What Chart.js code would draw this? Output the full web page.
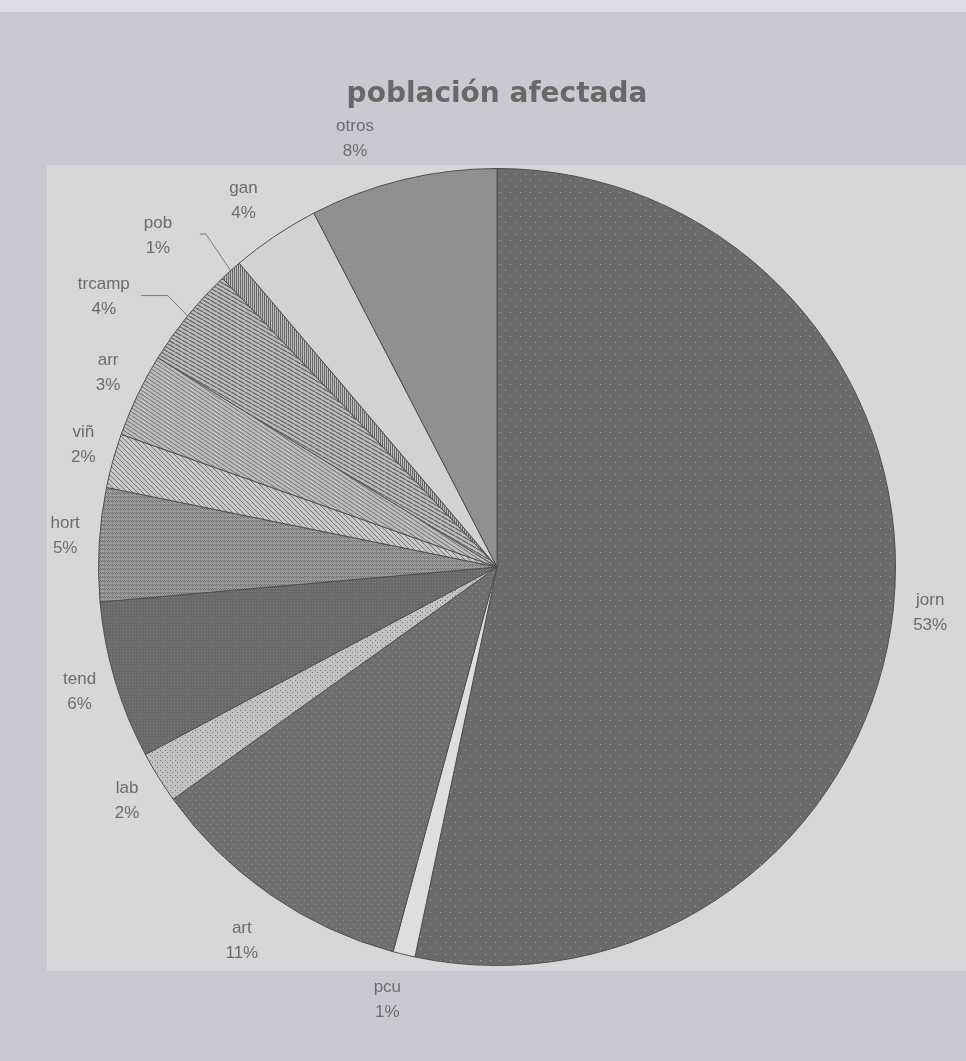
<!DOCTYPE html>
<html>
<head>
<meta charset="utf-8">
<script src="https://cdn.jsdelivr.net/npm/chart.js@4.4.0/dist/chart.umd.min.js"></script>
<style>
  html, body { margin: 0; padding: 0; background: #c9c9d1; }
  #wrap { width: 966px; height: 1061px; }
</style>
</head>
<body>
<div id="wrap"><canvas id="pieChart" width="966" height="1061"></canvas></div>
<script>
// datos (porcentaje de cada sector)
const categories = ['jorn', 'pcu', 'art', 'lab', 'tend', 'hort', 'viñ', 'arr', 'trcamp', 'pob', 'gan', 'otros'];
const shares = [53.3, 0.9, 10.9, 2.1, 6.4, 4.6, 2.2, 3.4, 4.1, 0.9, 3.6, 7.6];
const chartTitle = 'población afectada';

// tramas en gris, como el original escaneado
function tile(w, h, bg, draw) {
  const c = document.createElement('canvas');
  c.width = w; c.height = h;
  const g = c.getContext('2d');
  g.fillStyle = bg;
  g.fillRect(0, 0, w, h);
  if (draw) draw(g, w, h);
  return g.createPattern(c, 'repeat');
}
function dots(bg, fg, w, h) {
  return tile(w, h, bg, g => {
    g.fillStyle = fg;
    g.fillRect(0, 0, 1, 1);
    g.fillRect(Math.floor(w / 2), Math.floor(h / 2), 1, 1);
  });
}
function hatch(bg, fg, w, h, lw) {
  return tile(w, h, bg, g => {
    g.strokeStyle = fg;
    g.lineWidth = lw;
    for (let k = -1; k <= 1; k++) {
      g.beginPath();
      g.moveTo(k * w, 0);
      g.lineTo(k * w + w, h);
      g.stroke();
    }
  });
}
function vlines(bg, fg, w) {
  return tile(w, 4, bg, g => { g.fillStyle = fg; g.fillRect(0, 0, 1, 4); });
}
function cross(bg, fg) {
  return tile(4, 4, bg, g => {
    g.fillStyle = fg;
    g.fillRect(0, 0, 1, 1); g.fillRect(2, 0, 1, 1);
    g.fillRect(1, 1, 1, 1); g.fillRect(3, 1, 1, 1);
    g.fillRect(0, 2, 1, 1);
  });
}

const fills = [
  dots('#6b6b6b', '#a9a9a9', 10, 12),   // jorn
  '#dedede',                            // pcu
  dots('#6f6f6f', '#969696', 7, 8),     // art
  dots('#c2c2c2', '#7a7a7a', 5, 5),     // lab
  tile(3, 3, '#6a6a6a', g => { g.fillStyle = '#818181'; g.fillRect(0, 0, 1, 1); }), // tend
  cross('#9c9c9c', '#6e6e6e'),          // hort
  hatch('#c6c6c6', '#777777', 5, 5, 1), // viñ
  hatch('#bbbbbb', '#707070', 6, 4, 1), // arr
  hatch('#bcbcbc', '#686868', 7, 4, 1.4), // trcamp
  vlines('#bdbdbd', '#666666', 2),      // pob
  '#d2d2d2',                            // gan
  tile(2, 2, '#8d8d8d', g => { g.fillStyle = '#999999'; g.fillRect(0, 0, 1, 1); }) // otros
];

// ajustes de posición de las etiquetas (px) y líneas guía
const labelNudge = [[0, 0], [-8, 9], [-7, 15], [0, 3], [0, 0], [3, -7], [6, -6], [4, -7], [-55, 4], [-48, -8], [-11, -5], [-39, -6]];
const leaders = { 8: { from: 37, elbow: 64 }, 9: { from: 42, elbow: 48 } };

const backdrop = {
  id: 'backdrop',
  beforeDraw(chart) {
    const c = chart.ctx;
    c.save();
    c.fillStyle = '#c9c9d1';
    c.fillRect(0, 0, chart.width, chart.height);
    c.fillStyle = '#dcdce3';
    c.fillRect(0, 0, chart.width, 12);
    c.fillStyle = '#d7d7d9';
    c.fillRect(47, 165, chart.width - 47, 806);
    c.restore();
  }
};

const outsideLabels = {
  id: 'outsideLabels',
  afterDatasetsDraw(chart) {
    const c = chart.ctx;
    const meta = chart.getDatasetMeta(0);
    const data = chart.data.datasets[0].data;
    const total = data.reduce((a, b) => a + b, 0);
    c.save();
    c.font = '17px "Liberation Sans", Arial, sans-serif';
    c.fillStyle = '#6c6c6c';
    c.textAlign = 'center';
    c.textBaseline = 'middle';
    meta.data.forEach((arc, i) => {
      const p = arc.getProps(['x', 'y', 'startAngle', 'endAngle', 'outerRadius'], true);
      const mid = (p.startAngle + p.endAngle) / 2;
      const r = p.outerRadius + 37;
      const lx = p.x + Math.cos(mid) * r + labelNudge[i][0];
      const ly = p.y + Math.sin(mid) * r + labelNudge[i][1];
      c.fillText(chart.data.labels[i], lx, ly - 12);
      c.fillText(Math.round(data[i] / total * 100) + '%', lx, ly + 13);
      const ld = leaders[i];
      if (ld) {
        const rx = p.x + Math.cos(mid) * p.outerRadius;
        const ry = p.y + Math.sin(mid) * p.outerRadius;
        c.strokeStyle = '#7a7a7a';
        c.lineWidth = 1;
        c.beginPath();
        c.moveTo(lx + ld.from, ly - 1);
        c.lineTo(lx + ld.elbow, ly - 1);
        c.lineTo(rx, ry);
        c.stroke();
      }
    });
    c.restore();
  }
};

const ctx = document.getElementById('pieChart').getContext('2d');

new Chart(ctx, {
  type: 'pie',
  data: {
    labels: categories,
    datasets: [{
      data: shares,
      backgroundColor: fills,
      borderColor: '#4f4f4f',
      borderWidth: 1
    }]
  },
  options: {
    responsive: false,
    animation: false,
    events: [],
    layout: { padding: { left: 98, right: 70, top: 0, bottom: 95 } },
    plugins: {
      legend: { display: false },
      tooltip: { enabled: false },
      title: {
        display: true,
        text: chartTitle,
        color: '#686868',
        font: { family: '"DejaVu Sans", Verdana, sans-serif', size: 28, weight: 'bold', lineHeight: 1.2 },
        padding: { top: 78, bottom: 56.4 }
      }
    }
  },
  plugins: [backdrop, outsideLabels]
});
</script>
</body>
</html>
